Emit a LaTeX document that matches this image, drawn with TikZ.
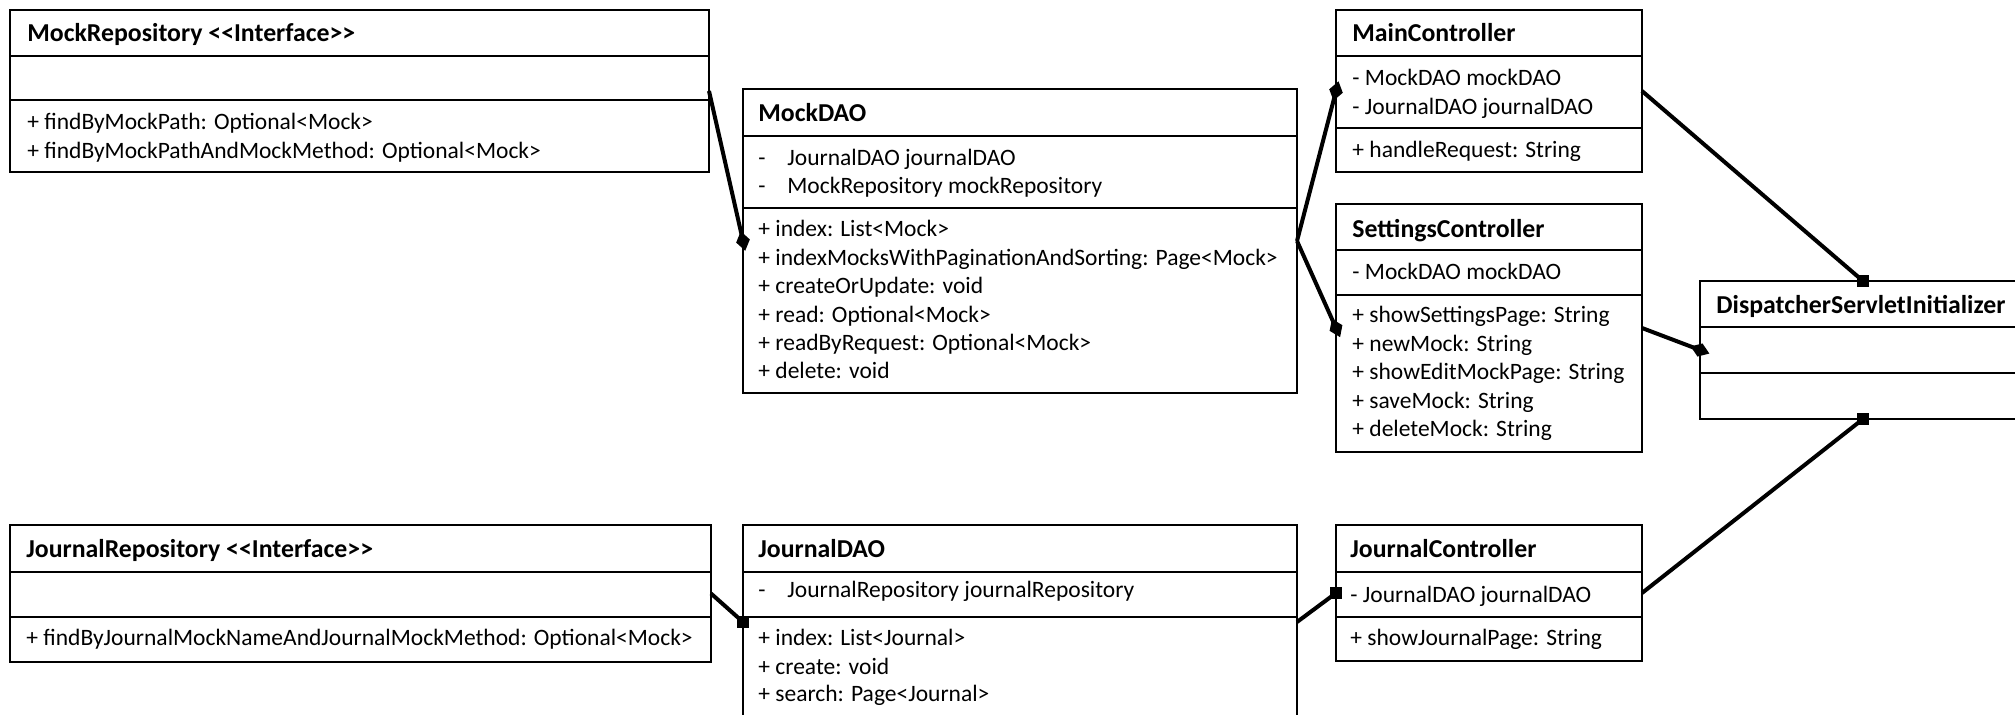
\documentclass[tikz,border=0pt]{standalone}
\usepackage{fontspec}
\setmainfont{Carlito}
\usetikzlibrary{arrows.meta}
\begin{document}
\begin{tikzpicture}[x=0.5pt,y=-0.5pt,
  box/.style={draw, line width=0.9pt, rectangle, outer sep=0pt, inner sep=0pt, anchor=north west},
  txt/.style={anchor=base west, inner sep=0pt, font=\fontsize{11.75}{14}\selectfont},
  ttl/.style={anchor=base west, inner sep=0pt, font=\fontsize{12.9}{15}\selectfont\bfseries},
  sep/.style={line width=0.9pt},
  link/.style={line width=2pt},
  dia/.style={link, -{Turned Square[length=10pt,width=7pt]}, shorten >=-5pt},
  sqm/.style={fill=black, rectangle, minimum size=6pt, inner sep=0pt, outer sep=0pt}]
\useasboundingbox (0,0) rectangle (2015,714);
\clip (0,0) rectangle (2015,714);
\fill[white] (0,0) rectangle (2015,714);
% boxes
\node[box, minimum width=349.5pt, minimum height=81pt] (mockrepo) at (10,10) {};
\node[box, minimum width=277pt, minimum height=152pt] (mockdao) at (743,89) {};
\node[box, minimum width=153pt, minimum height=81pt] (mainctl) at (1336,10) {};
\node[box, minimum width=153pt, minimum height=124pt] (settings) at (1336,204) {};
\node[box, minimum width=163pt, minimum height=69pt] (disp) at (1700,281) {};
\node[box, minimum width=350.5pt, minimum height=68.5pt] (journalrepo) at (10,525) {};
\node[box, minimum width=277pt, minimum height=97pt] (journaldao) at (743,525) {};
\node[box, minimum width=153pt, minimum height=68pt] (journalctl) at (1336,525) {};
% dividers
\draw[sep] (10,56) -- (709,56) (10,100) -- (709,100);
\draw[sep] (743,136) -- (1297,136) (743,208) -- (1297,208);
\draw[sep] (1336,56) -- (1642,56) (1336,128) -- (1642,128);
\draw[sep] (1336,250) -- (1642,250) (1336,295) -- (1642,295);
\draw[sep] (1700,327) -- (2026,327) (1700,373) -- (2026,373);
\draw[sep] (10,572) -- (711,572) (10,617) -- (711,617);
\draw[sep] (743,572) -- (1297,572) (743,617) -- (1297,617);
\draw[sep] (1336,572) -- (1642,572) (1336,617) -- (1642,617);
% MockRepository
\node[ttl] (mr0) at (27,41) {MockRepository <\kern0pt<Interface>\kern0pt>};
\node[txt] (mr1) at (27,129) {+ findByMockPath: Optional<Mock>};
\node[txt] (mr2) at (27,158) {+ findByMockPathAndMockMethod: Optional<Mock>};
% MockDAO
\node[ttl] (md0) at (758,121) {MockDAO};
\node[txt] (md1a) at (758,165) {-};
\node[txt] (md1) at (787,165) {JournalDAO journalDAO};
\node[txt] (md2a) at (758,193) {-};
\node[txt] (md2) at (787,193) {MockRepository mockRepository};
\node[txt] (md3) at (758,236) {+ index: List<Mock>};
\node[txt] (md4) at (758,265) {+ indexMocksWithPaginationAndSorting: Page<Mock>};
\node[txt] (md5) at (758,293) {+ createOrUpdate: void};
\node[txt] (md6) at (758,322) {+ read: Optional<Mock>};
\node[txt] (md7) at (758,350) {+ readByRequest: Optional<Mock>};
\node[txt] (md8) at (758,378) {+ delete: void};
% MainController
\node[ttl] (mc0) at (1352,41) {MainController};
\node[txt] (mc1) at (1352,85) {- MockDAO mockDAO};
\node[txt] (mc2) at (1352,114) {- JournalDAO journalDAO};
\node[txt] (mc3) at (1352,157) {+ handleRequest: String};
% SettingsController
\node[ttl] (sc0) at (1352,237) {SettingsController};
\node[txt] (sc1) at (1352,279) {- MockDAO mockDAO};
\node[txt] (sc2) at (1352,322) {+ showSettingsPage: String};
\node[txt] (sc3) at (1352,351) {+ newMock: String};
\node[txt] (sc4) at (1352,379) {+ showEditMockPage: String};
\node[txt] (sc5) at (1352,408) {+ saveMock: String};
\node[txt] (sc6) at (1352,436) {+ deleteMock: String};
% Dispatcher
\node[ttl] (dp0) at (1716,313) {DispatcherServletInitializer};
% JournalRepository
\node[ttl] (jr0) at (26,557) {JournalRepository <\kern0pt<Interface>\kern0pt>};
\node[txt] (jr1) at (26,645) {+ findByJournalMockNameAndJournalMockMethod: Optional<Mock>};
% JournalDAO
\node[ttl] (jd0) at (758,557) {JournalDAO};
\node[txt] (jd1a) at (758,597) {-};
\node[txt] (jd1) at (787,597) {JournalRepository journalRepository};
\node[txt] (jd2) at (758,645) {+ index: List<Journal>};
\node[txt] (jd3) at (758,674) {+ create: void};
\node[txt] (jd4) at (758,701) {+ search: Page<Journal>};
% JournalController
\node[ttl] (jc0) at (1350,557) {JournalController};
\node[txt] (jc1) at (1350,602) {- JournalDAO journalDAO};
\node[txt] (jc2) at (1350,645) {+ showJournalPage: String};
% square ends
\node[sqm] (q1) at (disp.north) {};
\node[sqm] (q2) at (disp.south) {};
\node[sqm] (q3) at (journaldao.west) {};
\node[sqm] (q4) at (journalctl.west) {};
% connectors
\draw[dia] (mockrepo.east) -- (mockdao.west);
\draw[dia] (mockdao.east) -- (mainctl.west);
\draw[dia] (mockdao.east) -- (settings.west);
\draw[dia] (settings.east) -- (disp.west);
\draw[link] (mainctl.east) -- (q1.center);
\draw[link] (journalctl.east) -- (q2.center);
\draw[link] (journalrepo.east) -- (q3.center);
\draw[link] (journaldao.east) -- (q4.center);
\end{tikzpicture}
\end{document}
